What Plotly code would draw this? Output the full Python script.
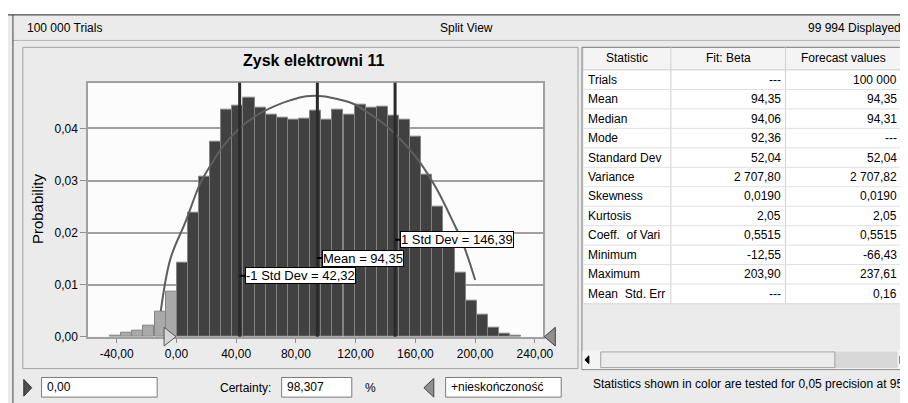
import plotly.graph_objects as go

W, H = 908, 403

# histogram (bin centres, probability)
bin_mid = [-40.7, -33.2, -25.8, -18.4, -10.9, -3.5, 4.0, 11.4, 18.8, 26.3, 33.7, 41.2,
           48.6, 56.0, 63.5, 70.9, 78.4, 85.8, 93.2, 100.7, 108.1, 115.6, 123.0, 130.4,
           137.9, 145.3, 152.8, 160.2, 167.6, 175.1, 182.5, 190.0, 197.4, 204.8, 212.3,
           219.7, 227.2]
prob = [0.0002, 0.0007, 0.0012, 0.0022, 0.0048, 0.0087, 0.0142, 0.0239, 0.0307, 0.0374,
        0.0437, 0.0443, 0.0460, 0.0440, 0.0427, 0.0421, 0.0417, 0.0419, 0.0434, 0.0417,
        0.0436, 0.0427, 0.0445, 0.0440, 0.0442, 0.0424, 0.0417, 0.0384, 0.0312, 0.0249,
        0.0190, 0.0123, 0.0070, 0.0043, 0.0017, 0.0005, 0.0001]
bin_width = 7.44
certainty_low = 0.0

# fitted beta curve
curve_x = [-10.5, -4, 6, 16, 23, 31, 42, 53, 65, 76, 87, 98, 107, 118, 129, 141, 152,
           163, 174, 185, 192, 200]
curve_y = [0.0049, 0.0150, 0.0220, 0.0295, 0.0330, 0.0365, 0.0400, 0.0424, 0.0442,
           0.0454, 0.0462, 0.0462, 0.0457, 0.0448, 0.0429, 0.0404, 0.0373, 0.0335,
           0.0285, 0.0222, 0.0178, 0.0109]

# marker lines
mark_x = [42.32, 94.35, 146.39]
mark_text = ["-1 Std Dev = 42,32", "Mean = 94,35", "1 Std Dev = 146,39"]
mark_label_y = [0.0117, 0.0151, 0.0186]

x_ticks = [-40, 0, 40, 80, 120, 160, 200, 240]
x_ticktext = ["-40,00", "0,00", "40,00", "80,00", "120,00", "160,00", "200,00", "240,00"]
y_ticks = [0, 0.01, 0.02, 0.03, 0.04]
y_ticktext = ["0,00", "0,01", "0,02", "0,03", "0,04"]

# statistics table
table_header = ["Statistic", "Fit: Beta", "Forecast values"]
stat_names = ["Trials", "Mean", "Median", "Mode", "Standard Dev", "Variance", "Skewness",
              "Kurtosis", "Coeff.  of Vari", "Minimum", "Maximum", "Mean  Std. Err"]
fit_beta = ["---", "94,35", "94,06", "92,36", "52,04", "2 707,80", "0,0190", "2,05",
            "0,5515", "-12,55", "203,90", "---"]
forecast_vals = ["100 000", "94,35", "94,31", "---", "52,04", "2 707,82", "0,0190", "2,05",
                 "0,5515", "-66,43", "237,61", "0,16"]

FONT = "Liberation Sans, Arial, sans-serif"
BG = "#ebebeb"


def px(x):
    return x / W


def py(y):
    return 1 - y / H


def rect(x0, y0, x1, y1, fill=None, line="#a0a0a0", lw=1, layer="below"):
    return dict(type="rect", xref="paper", yref="paper", x0=px(x0), x1=px(x1),
                y0=py(y1), y1=py(y0), fillcolor=fill, layer=layer,
                line=dict(color=line, width=lw))


def hline(x0, x1, y, color, lw=1):
    return dict(type="line", xref="paper", yref="paper", x0=px(x0), x1=px(x1),
                y0=py(y), y1=py(y), line=dict(color=color, width=lw), layer="below")


def vline(x, y0, y1, color, lw=1):
    return dict(type="line", xref="paper", yref="paper", x0=px(x), x1=px(x),
                y0=py(y0), y1=py(y1), line=dict(color=color, width=lw), layer="below")


def tri(pts, fill, line):
    path = "M " + " L ".join(f"{px(a)},{py(b)}" for a, b in pts) + " Z"
    return dict(type="path", xref="paper", yref="paper", path=path, fillcolor=fill,
                line=dict(color=line, width=1), layer="above")


def txt(x, y, s, size=12, xanchor="left", **kw):
    return dict(x=px(x), y=py(y), xref="paper", yref="paper", text=s, showarrow=False,
                xanchor=xanchor, yanchor="middle",
                font=dict(family=FONT, size=size, color="black"), **kw)


fig = go.Figure()

colors = ["#a9a9a9" if m < certainty_low else "#414141" for m in bin_mid]
fig.add_trace(go.Bar(x=bin_mid, y=prob, width=bin_width, marker_color=colors,
                     marker_line=dict(color="#858585", width=1), showlegend=False))

fig.add_trace(go.Scatter(x=curve_x, y=curve_y, mode="lines", line_shape="spline",
                         line=dict(color="#5e5e5e", width=2), showlegend=False))

shapes = [
    # window strip
    rect(0, 0, W, 7, fill="white", line="white", lw=0),
    hline(0, W, 7, "#202020"),
    hline(5, W, 33, "#b4b4b4"),
    vline(5, 7, H, "#404040"),
    # chart panel
    rect(15, 40, 577, 367),
    # table
    rect(582, 40, 907, 63, fill="#f4f4f4", line="#d0d0d0"),
    rect(582, 63, 907, 301, fill="white", line="#d8d8d8"),
    rect(581, 40, 908, 368, line="#808080"),
    # horizontal scrollbar
    rect(582, 349, 907, 367, fill="#f4f4f4", line="#f4f4f4"),
    rect(837, 350, 900, 366, fill="#d8d8d8", line="#d8d8d8"),
    rect(600, 350, 837, 366, fill="#ececec", line="#a0a0a0"),
    # input boxes
    rect(34, 376, 151, 396, fill="white", line="#7a7a7a"),
    rect(277, 376, 348, 396, fill="white", line="#7a7a7a"),
    rect(443, 376, 560, 396, fill="white", line="#7a7a7a"),
    # grabbers
    tri([(158, 325), (158, 344), (170, 334.5)], "#d6d6d6", "#555555"),
    tri([(554, 325), (554, 344), (543, 334.5)], "#909090", "#404040"),
    tri([(16, 378), (16, 395), (24, 386.5)], "#505050", "#303030"),
    tri([(431, 377), (431, 396), (421, 386.5)], "#909090", "#404040"),
    tri([(588, 354), (588, 362), (584, 358)], "black", "black"),
    tri([(903, 354), (903, 362), (907, 358)], "black", "black"),
    # scroll indicator next to table
    rect(904, 82, 907, 101, fill="#c8c8c8", line="#c8c8c8"),
]

row_h = 19.8
row0 = 73
col_edges = [582, 671, 787, 905]
for cx in col_edges[1:]:
    shapes.append(vline(cx, 40, row0 + row_h * (len(stat_names) - 0.5), "#d0d0d0"))
for i in range(len(stat_names)):
    shapes.append(hline(582, 905, row0 + row_h * (i + 0.5), "#e0e0e0"))

for x, y in zip(mark_x, mark_label_y):
    shapes.append(dict(type="line", xref="x", yref="y domain", x0=x, x1=x, y0=0, y1=1,
                       line=dict(color="#2a2a2a", width=3), layer="above"))
    shapes.append(dict(type="line", xref="x", yref="y", x0=x, x1=x + 4, y0=y, y1=y,
                       line=dict(color="black", width=2), layer="above"))

annotations = [
    txt(17, 20, "100 000 Trials"),
    txt(464, 20, "Split View", xanchor="center"),
    txt(906, 20, "99 994 Displayed", xanchor="right"),
    txt(310, 53, "<b>Zysk elektrowni 11</b>", size=16, xanchor="center"),
    txt(30, 204, "Probability", size=15, xanchor="center", textangle=-90),
    txt(37, 386, "0,00"),
    txt(268, 387, "Certainty:", xanchor="right"),
    txt(280, 386, "98,307"),
    txt(359, 387, "%"),
    txt(446, 386, "+nieskończoność"),
    txt(590, 383, "Statistics shown in color are tested for 0,05 precision at 95"),
]

# table text
for j, h in enumerate(table_header):
    annotations.append(txt((col_edges[j] + col_edges[j + 1]) / 2, 51, h, xanchor="center"))
for i, (s, fb, fv) in enumerate(zip(stat_names, fit_beta, forecast_vals)):
    yy = row0 + row_h * i
    annotations.append(txt(585, yy, s.replace(" ", "&nbsp;")))
    annotations.append(txt(col_edges[2] - 3, yy, fb, xanchor="right"))
    annotations.append(txt(col_edges[3] - 3, yy, fv, xanchor="right"))

for x, y, s in zip(mark_x, mark_label_y, mark_text):
    annotations.append(dict(x=x, y=y, xref="x", yref="y", text=s, showarrow=False,
                            xanchor="left", yanchor="middle", xshift=5, bgcolor="white",
                            bordercolor="black", borderwidth=1, borderpad=0,
                            font=dict(family=FONT, size=13, color="black")))

fig.update_layout(
    width=W, height=H, autosize=False,
    margin=dict(l=0, r=0, t=0, b=0),
    paper_bgcolor=BG, plot_bgcolor="#fcfcfc",
    bargap=0, showlegend=False,
    font=dict(family=FONT, size=12, color="black"),
    shapes=shapes, annotations=annotations,
    xaxis=dict(domain=[px(81), px(541.5)], range=[-59.2, 245.4], tickvals=x_ticks,
               ticktext=x_ticktext, ticks="outside", ticklen=5, tickcolor="#909090",
               showline=True, linecolor="#a0a0a0", linewidth=1.5, mirror=True,
               showgrid=False, zeroline=False, tickfont=dict(size=12)),
    yaxis=dict(domain=[py(334.5), py(76)], range=[0, 0.0488], tickvals=y_ticks,
               ticktext=y_ticktext, ticks="outside", ticklen=6, tickcolor="#909090",
               showline=True, linecolor="#a0a0a0", linewidth=1.5, mirror=True,
               showgrid=True, gridcolor="#a0a0a0", gridwidth=1.5, zeroline=False,
               tickfont=dict(size=12)),
)

fig.write_html("out.html")
